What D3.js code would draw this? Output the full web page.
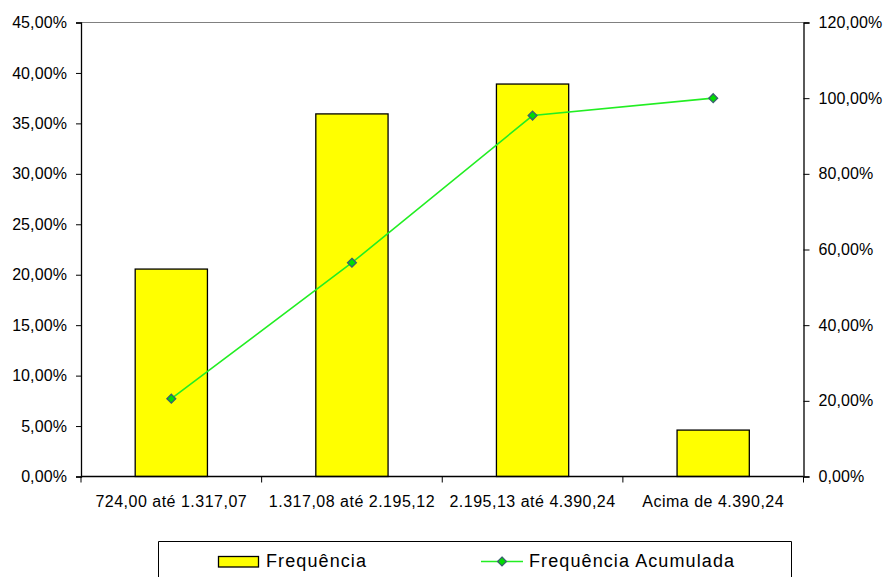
<!DOCTYPE html>
<html>
<head>
<meta charset="utf-8">
<script src="https://cdn.jsdelivr.net/npm/d3@7"></script>
<style>
  body { margin: 0; background: #fff; }
  svg { display: block; font-family: "Liberation Sans", Arial, sans-serif; }
</style>
</head>
<body>
<svg id="chart" width="888" height="577"></svg>
<script>
// data
const categorias = ["724,00 até 1.317,07", "1.317,08 até 2.195,12", "2.195,13 até 4.390,24", "Acima de 4.390,24"];
const frequencia = [20.56, 35.94, 38.90, 4.60];
const acumulada = [20.56, 56.50, 95.40, 100.00];
const ticksEsq = [0, 5, 10, 15, 20, 25, 30, 35, 40, 45];
const ticksDir = [0, 20, 40, 60, 80, 100, 120];

const mLeft = 81, mRight = 803.5, mTop = 22.5, mBottom = 476.5;

const fmt = v => v.toFixed(2).replace(".", ",") + "%";

const svg = d3.select("#chart");

// band used for bars, category ticks and point centres
let xb = d3.scaleBand().domain(categorias).range([mLeft, mRight]);

let yL = d3.scaleLinear().domain([0, 45]).range([mBottom, mTop]);
let yR = d3.scaleLinear().domain([0, 120]).range([mBottom, mTop]);

// top border of plot area
svg.append("line")
  .attr("x1", mLeft).attr("x2", mRight)
  .attr("y1", mTop).attr("y2", mTop)
  .attr("stroke", "#808080").attr("stroke-width", 1);

// bars
svg.selectAll("rect.bar")
  .data(frequencia)
  .enter().append("rect")
  .attr("class", "bar")
  .attr("x", (d, i) => xb(categorias[i]) + xb.bandwidth() * 0.3)
  .attr("width", xb.bandwidth() * 0.4)
  .attr("y", d => yL(d))
  .attr("height", d => mBottom - yL(d))
  .attr("fill", "#ffff00")
  .attr("stroke", "#000")
  .attr("stroke-width", 1.3);

// left axis
const axL = svg.append("g")
  .attr("transform", `translate(${mLeft},0)`)
  .call(d3.axisLeft(yL).tickValues(ticksEsq).tickFormat(fmt).tickSize(5).tickPadding(9));

// right axis
const axR = svg.append("g")
  .attr("transform", `translate(${mRight},0)`)
  .call(d3.axisRight(yR).tickValues(ticksDir).tickFormat(fmt).tickSize(6).tickPadding(9));

// bottom axis: ticks at band boundaries
const axB = svg.append("g")
  .attr("transform", `translate(0,${mBottom})`)
  .call(d3.axisBottom(xb).tickSize(0).tickPadding(19));
svg.selectAll("line.catTick")
  .data(d3.range(categorias.length + 1))
  .enter().append("line")
  .attr("class", "catTick")
  .attr("x1", i => mLeft + i * xb.step())
  .attr("x2", i => mLeft + i * xb.step())
  .attr("y1", mBottom).attr("y2", mBottom + 6)
  .attr("stroke", "#000");

[axL, axR, axB].forEach(a => {
  a.select(".domain").attr("stroke", "#000").attr("stroke-width", 1.3);
  a.selectAll(".tick line").attr("stroke", "#000");
  a.selectAll("text").attr("fill", "#000")
    .style("font-size", "16px").style("letter-spacing", "0.1px");
});
axB.selectAll("text").style("font-size", "16px").style("letter-spacing", "0.5px");
axB.select(".domain").attr("d", `M${mLeft},0H${mRight}`);

// cumulative line
const line = d3.line()
  .x((d, i) => xb(categorias[i]) + xb.bandwidth() / 2)
  .y(d => yR(d));

svg.append("path")
  .datum(acumulada)
  .attr("d", line)
  .attr("fill", "none")
  .attr("stroke", "#22ee22")
  .attr("stroke-width", 1.6);

svg.selectAll("path.mk")
  .data(acumulada)
  .enter().append("path")
  .attr("class", "mk")
  .attr("d", d3.symbol().type(d3.symbolDiamond2).size(50))
  .attr("transform", (d, i) => `translate(${xb(categorias[i]) + xb.bandwidth() / 2},${yR(d)})`)
  .attr("fill", "#00dd00")
  .attr("stroke", "#3a6070")
  .attr("stroke-width", 1.3);

// legend
const lg = svg.append("g");
lg.append("path")
  .attr("d", "M158.5,590V541.5H791.5V590")
  .attr("fill", "none")
  .attr("stroke", "#000")
  .attr("stroke-width", 1);

lg.append("rect")
  .attr("x", 218.5).attr("y", 556.5)
  .attr("width", 40).attr("height", 10.5)
  .attr("fill", "#ffff00").attr("stroke", "#000").attr("stroke-width", 1.3);
lg.append("text")
  .attr("x", 266).attr("y", 567)
  .style("font-size", "18px").style("letter-spacing", "1.1px")
  .text("Frequência");

lg.append("line")
  .attr("x1", 481).attr("x2", 523)
  .attr("y1", 561.5).attr("y2", 561.5)
  .attr("stroke", "#22ee22").attr("stroke-width", 1.6);
lg.append("path")
  .attr("d", d3.symbol().type(d3.symbolDiamond2).size(50))
  .attr("transform", "translate(502,561.5)")
  .attr("fill", "#00dd00")
  .attr("stroke", "#3a6070")
  .attr("stroke-width", 1.3);
lg.append("text")
  .attr("x", 529).attr("y", 567)
  .style("font-size", "18px").style("letter-spacing", "1.1px")
  .text("Frequência Acumulada");
</script>
</body>
</html>
